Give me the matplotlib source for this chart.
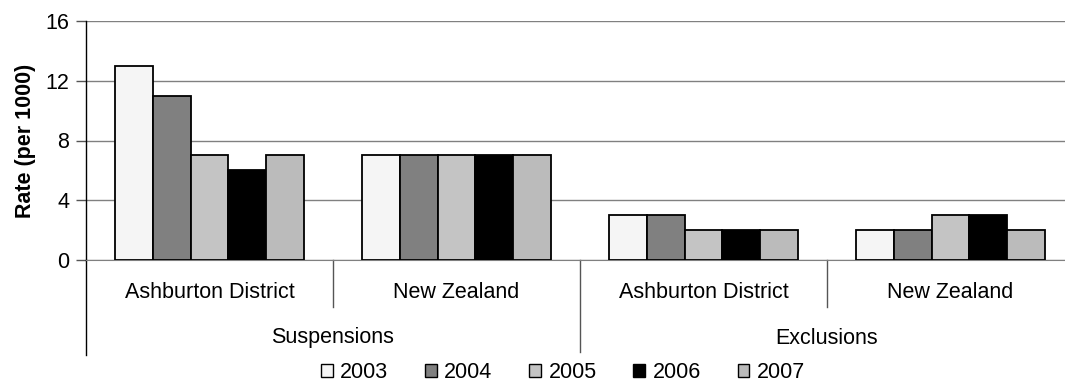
import matplotlib
matplotlib.use("Agg")
import matplotlib.pyplot as plt
from matplotlib.patches import Patch
from matplotlib.transforms import blended_transform_factory

plt.rcParams['font.family'] = ['Liberation Sans', 'DejaVu Sans']

# Data
groups = ["Suspensions", "Exclusions"]
categories = ["Ashburton District", "New Zealand", "Ashburton District", "New Zealand"]
years = ["2003", "2004", "2005", "2006", "2007"]
rate_2003 = [13, 7, 3, 2]
rate_2004 = [11, 7, 3, 2]
rate_2005 = [7, 7, 2, 3]
rate_2006 = [6, 7, 2, 3]
rate_2007 = [7, 7, 2, 2]
series = [rate_2003, rate_2004, rate_2005, rate_2006, rate_2007]
colors = ["#f5f5f5", "#808080", "#c4c4c4", "#000000", "#bbbbbb"]
yticks = [0, 4, 8, 12, 16]

W, H = 1065, 383
FS = 15.5
fig = plt.figure(figsize=(W / 100, H / 100), dpi=100)
left, right, top, bottom = 86, 1074, 21, 260
ax = fig.add_axes([left / W, (H - bottom) / H, (right - left) / W, (bottom - top) / H])

bw = 0.1538
n = len(series)
for j, (vals, col) in enumerate(zip(series, colors)):
    xs = [i + 0.5 + (j - (n - 1) / 2) * bw for i in range(len(categories))]
    ax.bar(xs, vals, width=bw, color=col, edgecolor="black", linewidth=1.3, zorder=3)

ax.set_xlim(0, len(categories))
ax.set_ylim(0, 16)
ax.set_yticks(yticks)
ax.set_yticklabels([str(t) for t in yticks], fontsize=FS)
ax.tick_params(axis="y", length=7, width=1, color="#555555", pad=5)
ax.set_xticks([])
ax.yaxis.grid(True, color="#808080", linewidth=1)
ax.set_axisbelow(True)
for s in ["top", "right"]:
    ax.spines[s].set_visible(False)
ax.spines["bottom"].set_color("#808080")
ax.spines["left"].set_color("black")
ax.spines["left"].set_linewidth(1)
ax.set_ylabel("Rate (per 1000)", fontsize=FS, fontweight="bold", labelpad=7)

# Two-level category axis below the plot
ph = bottom - top
tr = blended_transform_factory(ax.transData, ax.transAxes)
def ay(py):
    return -(py - bottom) / ph

dividers = {0: 355, 1: 307, 2: 352, 3: 307}
for x, yend in dividers.items():
    ax.plot([x, x], [0, ay(yend)], transform=tr, color="black" if x == 0 else "#555555",
            linewidth=1, clip_on=False)

for i, name in enumerate(categories):
    ax.text(i + 0.5, ay(292), name, transform=tr, ha="center", va="center", fontsize=FS)
for g, name in enumerate(groups):
    ax.text(2 * g + 1, ay(338), name, transform=tr, ha="center", va="center", fontsize=FS)

handles = [Patch(facecolor=c, edgecolor="black", linewidth=1) for c in colors]
fig.legend(handles, years, loc="center", bbox_to_anchor=(563 / W, 10 / H), ncol=5,
           frameon=False, fontsize=FS, handlelength=0.55, handleheight=0.55,
           handletextpad=0.35, columnspacing=1.7, borderpad=0)

fig.savefig("out.png", dpi=100)
